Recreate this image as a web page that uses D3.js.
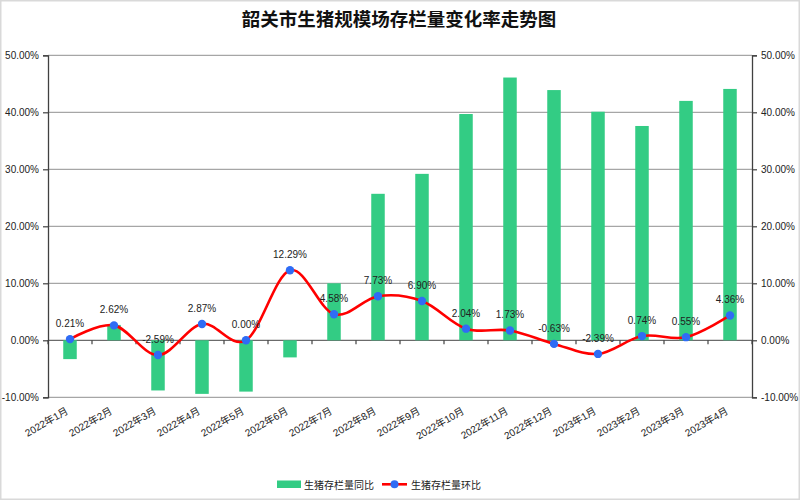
<!DOCTYPE html>
<html><head><meta charset="utf-8">
<script src="https://d3js.org/d3.v7.min.js"></script>
<style>body{margin:0;background:#fff}svg{display:block}</style>
</head><body>
<svg id="c" width="800" height="501"></svg>
<script>
const categories = ["2022年1月","2022年2月","2022年3月","2022年4月","2022年5月","2022年6月","2022年7月","2022年8月","2022年9月","2022年10月","2022年11月","2022年12月","2023年1月","2023年2月","2023年3月","2023年4月"];
const yoy = [-3.3, 2.7, -8.8, -9.4, -9.0, -3.0, 10.0, 25.7, 29.2, 39.7, 46.1, 43.9, 40.1, 37.6, 42.0, 44.1];
const mom = [0.21, 2.62, -2.59, 2.87, 0.00, 12.29, 4.58, 7.73, 6.90, 2.04, 1.73, -0.63, -2.39, 0.74, 0.55, 4.36];
const yTicks = [-10, 0, 10, 20, 30, 40, 50];
const seriesNames = ["生猪存栏量同比", "生猪存栏量环比"];
const title = "韶关市生猪规模场存栏量变化率走势图";

const svg = d3.select("#c");
const font = "'Liberation Sans','Noto Sans CJK SC',sans-serif";
const L = 48, R = 752, T = 55.3, B = 397.3;

svg.append("rect").attr("x",0.75).attr("y",0.75).attr("width",798.5).attr("height",498.5)
  .attr("fill","#fff").attr("stroke","#d9d9d9").attr("stroke-width",1.5);

svg.append("text").attr("x",399).attr("y",26).attr("text-anchor","middle")
  .attr("font-family","'Noto Sans CJK SC',sans-serif").attr("font-weight","bold")
  .attr("font-size",18.5).attr("fill","#111").text(title);

const x = d3.scaleBand().domain(categories).range([L, R]);
const y = d3.scaleLinear().domain([-10, 50]).range([B, T]);

// gridlines
svg.append("g").selectAll("line").data(yTicks).join("line")
  .attr("x1",L).attr("x2",R).attr("y1",d=>y(d)).attr("y2",d=>y(d))
  .attr("stroke",d=>d===0?"#6b6b6b":"#a6a6a6").attr("stroke-width",1.3);

// left axis
const la = svg.append("g").attr("transform",`translate(${L},0)`)
  .call(d3.axisLeft(y).tickValues(yTicks).tickSize(5).tickPadding(4).tickFormat(d=>d.toFixed(2)+"%"));
// right axis
const ra = svg.append("g").attr("transform",`translate(${R},0)`)
  .call(d3.axisRight(y).tickValues(yTicks).tickSize(5).tickPadding(4).tickFormat(d=>d.toFixed(2)+"%"));
[la, ra].forEach(g=>{
  g.select(".domain").attr("stroke","#404040").attr("stroke-width",1.3);
  g.selectAll(".tick line").attr("stroke","#404040").attr("stroke-width",1.2);
  g.selectAll("text").attr("font-family",font).attr("font-size",10).attr("fill","#222");
});

// bars
const bw = 13.5;
svg.append("g").selectAll("rect").data(yoy).join("rect")
  .attr("x",(d,i)=>x(categories[i])+x.bandwidth()/2-bw/2)
  .attr("width",bw)
  .attr("y",d=>y(Math.max(0,d)))
  .attr("height",d=>Math.abs(y(d)-y(0)))
  .attr("fill","#33cc84");

// category ticks on zero line
const xa = svg.append("g").attr("transform",`translate(0,${y(0)})`);
xa.selectAll("line").data(d3.range(categories.length+1)).join("line")
  .attr("x1",i=>L+i*x.step()).attr("x2",i=>L+i*x.step())
  .attr("y1",0).attr("y2",4).attr("stroke","#404040").attr("stroke-width",1.2);

// x labels
svg.append("g").selectAll("text").data(categories).join("text")
  .attr("transform",d=>`translate(${x(d)+x.bandwidth()/2-1},${413}) rotate(-30)`)
  .attr("text-anchor","end").attr("font-family",font).attr("font-size",10).attr("fill","#222")
  .text(d=>d);

// line
const pts = mom.map((v,i)=>[x(categories[i])+x.bandwidth()/2, y(v)]);
svg.append("path").attr("d",d3.line().curve(d3.curveCatmullRom.alpha(0))(pts))
  .attr("fill","none").attr("stroke","#ff0000").attr("stroke-width",2.6);
svg.append("g").selectAll("circle").data(pts).join("circle")
  .attr("cx",d=>d[0]).attr("cy",d=>d[1]).attr("r",4.2).attr("fill","#2f6cf5");
svg.append("g").selectAll("text").data(mom).join("text")
  .attr("x",(d,i)=>pts[i][0]).attr("y",(d,i)=>pts[i][1]-12)
  .attr("text-anchor","middle").attr("font-family",font).attr("font-size",10).attr("fill","#222")
  .text(d=>d.toFixed(2)+"%");

// legend
const lg = svg.append("g");
lg.append("rect").attr("x",277).attr("y",480.5).attr("width",24).attr("height",7.5).attr("fill","#33cc84");
lg.append("text").attr("x",304).attr("y",488.5).attr("font-family","'Noto Sans CJK SC',sans-serif")
  .attr("font-size",10).attr("fill","#222").text(seriesNames[0]);
lg.append("line").attr("x1",382).attr("x2",407).attr("y1",484.3).attr("y2",484.3).attr("stroke","#ff0000").attr("stroke-width",2.6);
lg.append("circle").attr("cx",394.5).attr("cy",484.3).attr("r",4).attr("fill","#2f6cf5");
lg.append("text").attr("x",411).attr("y",488.5).attr("font-family","'Noto Sans CJK SC',sans-serif")
  .attr("font-size",10).attr("fill","#222").text(seriesNames[1]);
</script>
</body></html>
